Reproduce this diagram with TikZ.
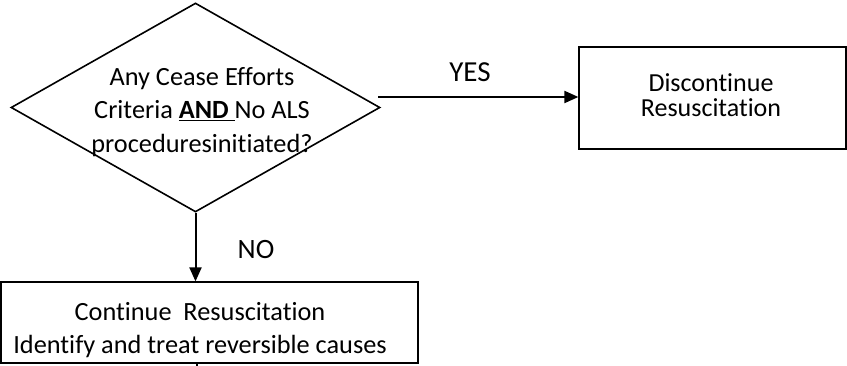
\documentclass[tikz,border=0pt]{standalone}
\usepackage{fontspec}
\setmainfont{Carlito}[Ligatures=NoCommon,RawFeature={-liga;-clig}]
\usetikzlibrary{shapes.geometric,arrows.meta}

\begin{document}
\begin{tikzpicture}[x=1pt,y=-1pt,
    every node/.style={font=\fontsize{26.3}{33.5}\selectfont},
    box/.style={draw,line width=1.2pt,inner sep=0pt},
    flow/.style={line width=2pt,-{Triangle[length=14pt,width=12pt]}}]
\useasboundingbox (0,0) rectangle (847,366);

\node[diamond,draw,line width=1.6pt,minimum width=369pt,minimum height=209pt,inner sep=0pt] (q) at (195.5,107.5) {};
\node[align=center] (qtext) at (202,112) {Any Cease Efforts\\Criteria \underline{\textbf{AND}\ }No ALS\\proceduresinitiated?};

\node[box,minimum width=267pt,minimum height=102pt] (stop) at (712.5,98) {};
\node[align=center,font=\fontsize{26}{25}\selectfont] (stoptext) at (711,95) {Discontinue\\Resuscitation};

\node[box,minimum width=417pt,minimum height=81pt] (cont) at (209.5,322.5) {};
\node[align=center] (conttext) at (200,330) {Continue \ Resuscitation\\Identify and treat reversible causes};

\node[font=\fontsize{29}{30}\selectfont] (yes) at (470,72) {YES};
\node[font=\fontsize{28}{30}\selectfont] (no) at (256,250) {NO};

\coordinate (yesstart) at (378,97);
\coordinate (out) at (197,366);

\draw[flow] (yesstart) -- (stop.west |- yesstart);
\draw[flow] (q.south) -- (cont.north -| q.south);
\draw[line width=1.2pt] (cont.south -| out) -- (out);
\end{tikzpicture}
\end{document}
